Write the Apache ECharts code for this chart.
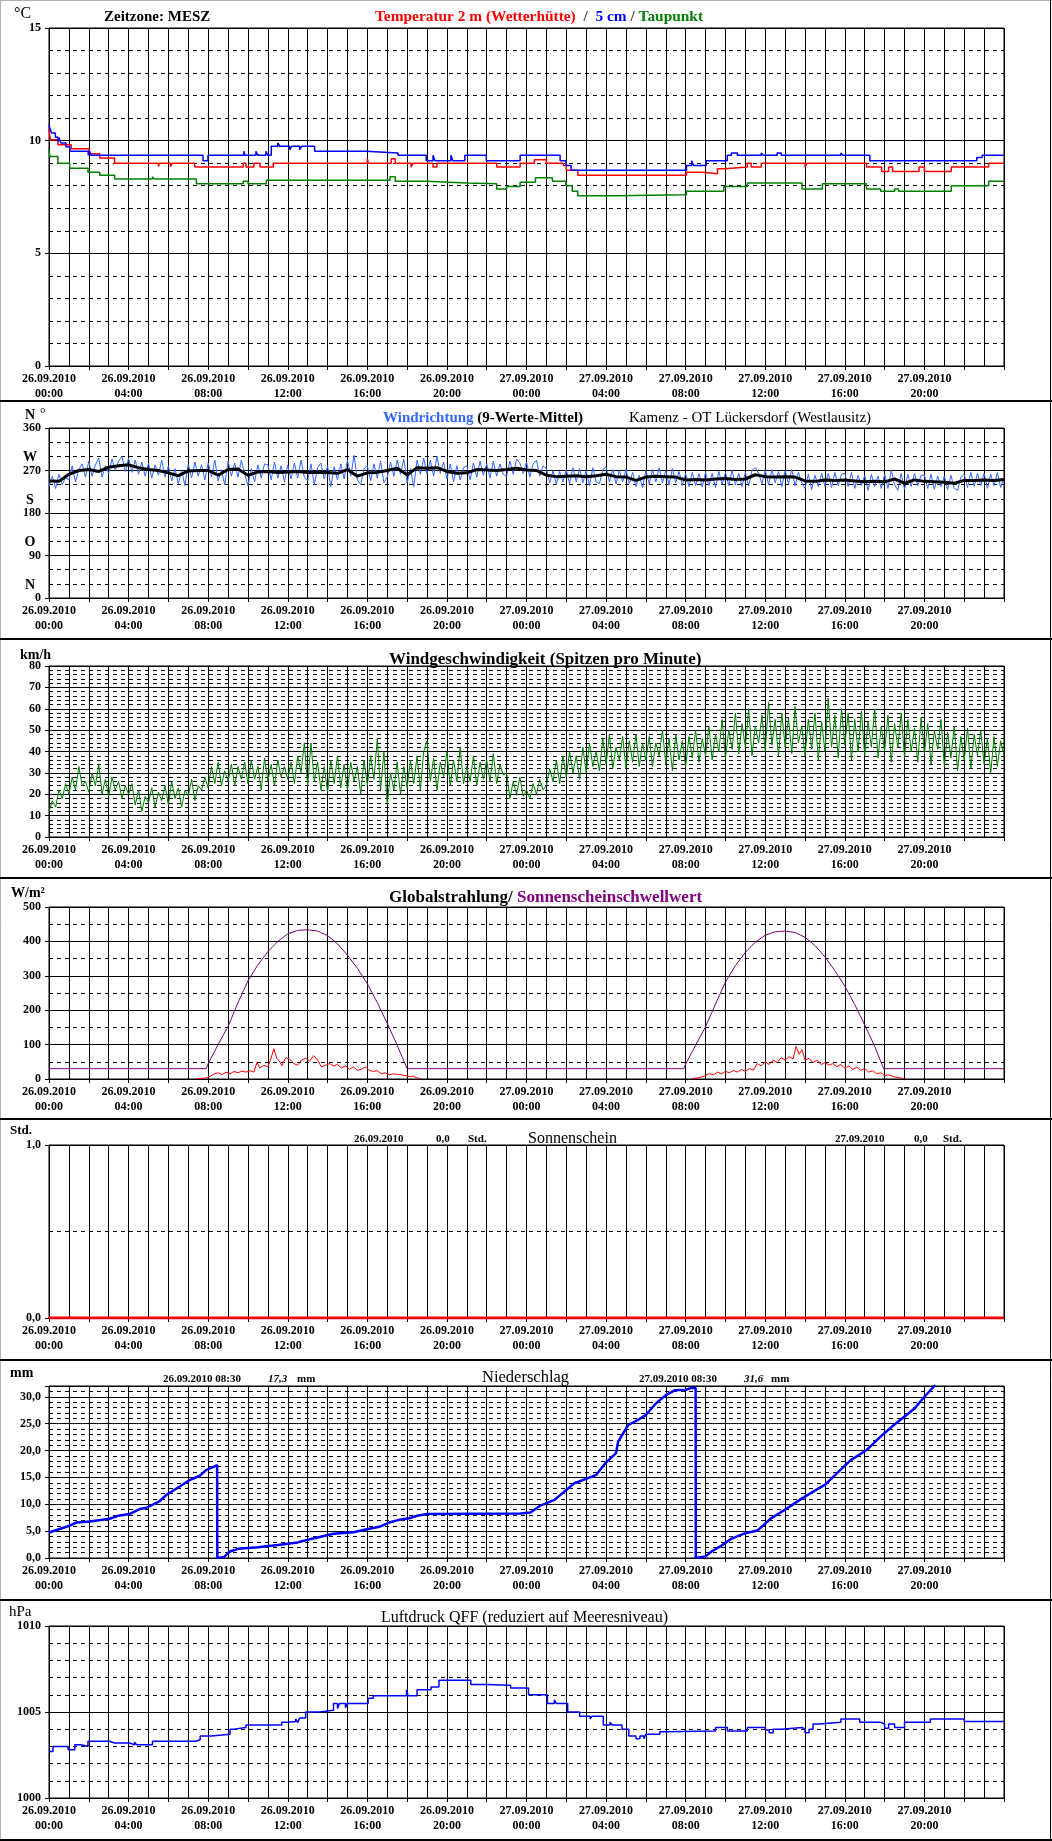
<!DOCTYPE html>
<html>
<head>
<meta charset="utf-8">
<script src="https://cdn.jsdelivr.net/npm/echarts@6/dist/echarts.min.js"></script>
<style>
html, body { margin: 0; padding: 0; background: #fff; }
#main { width: 1052px; height: 1841px; }
</style>
</head>
<body>
<div id="main"></div>
<script>
// ---- tick labels ----
var dayLabels = ['26.09.2010', '27.09.2010']
var hourLabels = ['00:00', '04:00', '08:00', '12:00', '16:00', '20:00']

// ---- Temperatur: [stunde, wert] (Stufen) ----
var temp2m = [[0,10.5],[0.07,10.04],[0.45,9.82],[1.12,9.64],[2.01,9.42],[2.55,9.23],[3.3,9.0],[5.5,8.85],[5.55,9.0],[6.1,8.85],[6.2,9.0],[7.33,8.83],[9.76,9.0],[9.9,8.83],[10.3,9.0],[10.6,8.83],[11.27,9.0],[16.0,9.2],[16.05,9.0],[17.2,9.2],[17.4,9.0],[18.2,8.83],[18.3,9.0],[19.3,8.83],[19.5,9.0],[22.5,8.83],[23.68,9.0],[24.4,9.15],[25.0,9.0],[25.85,8.9],[26.0,8.69],[26.58,8.46],[32.04,8.6],[32.8,8.53],[33.6,8.75],[33.98,8.83],[35.1,9.0],[35.3,8.83],[35.8,9.0],[38.0,8.83],[38.1,9.0],[41.09,8.83],[41.85,8.63],[42.2,8.83],[42.4,8.63],[43.73,8.83],[44.0,8.63],[45.35,8.83],[47.23,9.0],[48,9.0]]
var temp5cm = [[0,10.7],[0.04,10.56],[0.13,10.34],[0.32,10.15],[0.45,9.95],[0.5,10.15],[0.6,9.9],[0.85,9.73],[1.05,9.53],[1.97,9.35],[2.05,9.53],[2.1,9.35],[7.74,9.11],[7.99,9.35],[9.8,9.53],[9.85,9.35],[10.4,9.53],[10.5,9.35],[10.9,9.53],[11.0,9.35],[11.17,9.75],[11.5,9.9],[11.6,9.75],[12.1,9.6],[12.2,9.75],[12.6,9.6],[12.7,9.75],[13.35,9.53],[15.94,9.45],[17.54,9.35],[18.96,9.11],[19.3,9.35],[19.4,9.11],[20.2,9.35],[20.3,9.11],[20.9,9.35],[21.98,9.11],[23.68,9.35],[25.69,9.11],[25.98,8.9],[26.24,8.69],[32.04,8.9],[32.3,9.11],[32.4,8.9],[33.03,9.11],[34.09,9.35],[34.3,9.45],[34.6,9.35],[35.8,9.45],[35.9,9.35],[36.6,9.45],[36.8,9.35],[39.8,9.45],[39.9,9.35],[41.26,9.11],[46.63,9.25],[46.9,9.35],[48,9.35]]
var dewPoint = [[0,9.6],[0.04,9.3],[0.45,9.0],[1.04,8.78],[1.96,8.6],[2.55,8.46],[3.3,8.3],[5.2,8.4],[5.3,8.3],[7.41,8.09],[9.76,8.2],[10.0,8.09],[10.93,8.24],[17.14,8.4],[17.4,8.2],[18.98,8.12],[20.99,8.09],[22.5,7.85],[23.0,7.97],[23.68,8.15],[24.45,8.35],[25.3,8.2],[25.98,8.0],[26.3,7.75],[26.58,7.56],[28.5,7.6],[32.04,7.75],[33.92,7.97],[35.1,8.12],[37.85,7.85],[38.87,8.09],[41.09,7.85],[41.8,7.75],[42.5,7.85],[42.7,7.75],[45.35,8.0],[47.23,8.2],[48,8.2]]

// ---- Windrichtung: 10-Minuten-Werte und 30-Minuten-Mittel ----
var windDirRaw = [
  236,258,232,262,240,255, 250,280,246,272,284,256, 290,258,282,296,256,280, 264,294,270,290,300,268,
  296,266,292,262,288,258, 286,254,282,260,292,256, 280,248,274,242,270,238, 284,254,288,258,282,250,
  286,256,292,248,272,240, 290,258,286,256,292,262, 238,274,246,282,254,284, 282,250,288,254,280,246,
  282,252,286,254,292,256, 248,284,240,276,286,252, 280,236,278,250,284,252, 292,258,302,250,240,274,
  280,248,284,254,290,244, 256,288,258,292,262,294, 244,274,236,292,262,296, 262,292,258,300,264,288,
  252,284,246,280,250,276, 280,250,286,256,290,260, 284,254,290,258,284,262, 258,290,262,294,286,264,
  288,256,284,292,258,280, 274,244,270,240,268,246, 272,242,276,246,274,244, 270,238,276,246,242,272,
  278,246,272,242,270,246, 272,242,266,236,260,234, 270,242,272,246,276,244, 270,240,274,244,268,238,
  264,236,266,238,263,235, 266,238,264,234,268,240, 266,238,270,240,264,236, 266,237,270,276,264,242,
  270,240,272,244,268,236, 270,242,272,238,266,244, 232,262,230,260,236,264, 236,264,234,266,238,262,
  264,236,266,232,260,238, 260,228,262,236,258,232, 262,232,270,240,228,264, 230,262,236,264,238,260,
  260,232,262,230,258,236, 258,230,260,232,228,256, 262,234,266,236,264,238, 264,232,262,238,266,234,
  256]
var windDirMean = [
  248,247,262,270,272,268,277,280,282,276,272,270,265,259,269,270,270,260,272,273,260,267,268,266,
  267,268,266,266,266,264,272,258,265,266,270,275,261,276,275,276,268,264,265,272,271,270,272,275,
  271,270,260,257,258,259,257,259,262,257,256,249,256,258,257,256,250,251,250,252,253,251,252,261,
  257,256,257,256,248,247,250,249,250,248,246,247,246,252,243,250,247,246,245,243,249,249,250,249,
  251]

// ---- Windgeschwindigkeit (km/h), 10-Minuten-Werte ----
var windSpeed = [
  12,17,14,22,18,25, 20,28,22,33,24,26, 21,30,24,34,20,27, 19,28,22,26,18,24,
  20,25,15,22,12,19, 16,23,14,21,17,24, 15,26,18,23,14,22, 19,27,17,24,22,28,
  23,33,25,35,24,31, 26,34,24,33,27,35, 25,36,27,33,22,37, 26,34,24,36,28,33,
  27,35,25,38,30,44, 24,44,26,35,22,33, 21,36,25,38,23,34, 22,35,26,33,20,36,
  24,38,27,46,22,40, 15,30,22,35,20,33, 23,36,25,38,22,40, 45,26,37,22,35,28,
  40,24,36,26,42,25, 33,26,38,24,35,27, 36,26,39,25,34,29, 30,18,26,20,28,19,
  22,18,25,20,27,22, 24,32,26,36,25,38, 28,40,30,38,27,42, 30,44,33,40,31,46,
  34,48,32,42,36,47, 32,45,35,48,33,44, 36,47,33,44,38,50, 34,46,31,48,36,45,
  33,47,37,50,35,46, 38,52,36,48,40,55, 37,50,41,58,39,53, 42,60,38,52,44,57,
  40,63,43,55,38,58, 42,56,39,61,44,52, 38,55,41,58,36,54, 40,65,42,57,37,60,
  43,58,36,55,40,59, 38,54,42,60,37,52, 40,57,35,53,42,58, 37,55,40,51,35,56,
  39,53,34,50,41,55, 33,49,37,52,31,47, 36,51,32,48,38,50, 34,46,30,47,33,45,
  38]

// ---- Globalstrahlung / Sonnenscheinschwellwert (W/m²) ----
var sunThreshold = [[0,30],[7.9,30],[8,45],[8.5,100],[9,153],[9.5,222],[10,285],[10.5,332],[11,370],[11.5,400],[12,422],[12.5,432],[13,434],[13.5,430],[14,417],[14.5,393],[15,360],[15.5,322],[16,277],[16.5,222],[17,162],[17.5,98],[18,30],
  [31.9,30],[32,43],[32.5,98],[33,152],[33.5,218],[34,282],[34.5,330],[35,368],[35.5,398],[36,418],[36.5,428],[37,430],[37.5,426],[38,412],[38.5,388],[39,355],[39.5,315],[40,270],[40.5,216],[41,157],[41.5,95],[41.95,30],[48,30]]
var globalRad1 = [[7.4,1],[7.9,3],[8.1,8],[8.3,15],[8.5,18],[8.7,13],[8.9,20],[9.1,15],[9.3,22],[9.5,18],[9.7,23],[9.9,20],[10.1,24],[10.3,20],[10.45,48],[10.6,32],[10.8,40],[11.0,35],[11.15,58],[11.3,88],[11.45,60],[11.6,50],[11.7,38],[11.9,62],[12.1,58],[12.3,45],[12.5,40],[12.7,55],[12.9,60],[13.1,52],[13.3,68],[13.5,55],[13.7,35],[13.9,40],[14.1,45],[14.3,38],[14.5,42],[14.7,32],[14.9,38],[15.1,28],[15.3,35],[15.5,25],[15.7,28],[15.9,35],[16.1,25],[16.3,22],[16.5,24],[16.7,15],[16.9,18],[17.1,12],[17.3,15],[17.6,13],[17.9,10],[18.1,7],[18.3,8],[18.5,3],[18.65,1]]
var globalRad2 = [[32.3,1],[32.7,4],[33.0,10],[33.2,16],[33.4,12],[33.6,20],[33.8,15],[34.0,22],[34.2,18],[34.4,25],[34.6,20],[34.8,28],[35.0,22],[35.2,30],[35.4,26],[35.6,45],[35.8,38],[36.0,50],[36.2,42],[36.4,55],[36.6,48],[36.8,62],[37.0,55],[37.2,65],[37.4,58],[37.55,95],[37.7,72],[37.85,85],[38.0,55],[38.2,60],[38.4,48],[38.6,55],[38.8,42],[39.0,48],[39.2,40],[39.4,45],[39.6,36],[39.8,42],[40.0,32],[40.2,38],[40.4,28],[40.6,34],[40.8,25],[41.0,30],[41.2,20],[41.4,24],[41.6,15],[41.8,18],[42.0,10],[42.2,12],[42.5,6],[42.8,3],[43.0,1]]

// ---- Sonnenschein (Std.) ----
var sunshine = [[0,0],[48,0]]

// ---- Niederschlag (mm) ----
var precip = [[0,4.75],[0.96,5.9],[1.37,6.6],[2.05,6.8],[3.05,7.3],[3.47,7.85],[4.06,8.2],[4.56,9.1],[4.9,9.35],[5.57,10.6],[5.9,11.75],[6.57,13.3],[7.07,14.5],[7.58,15.3],[7.91,16.4],[8.25,16.9],[8.45,17.3],[8.46,0],[8.8,0.2],[9.1,1.2],[9.5,1.7],[10.5,2.0],[11.5,2.4],[12.5,2.9],[13.1,3.5],[13.6,3.9],[14.3,4.5],[15.3,4.8],[15.8,5.2],[16.6,5.8],[17.1,6.6],[17.6,7.1],[18.1,7.4],[18.5,7.85],[19.0,8.2],[23.7,8.3],[24.2,8.45],[24.7,9.75],[25.4,10.8],[25.9,12.35],[26.4,13.9],[27.1,14.85],[27.5,15.45],[27.95,17.6],[28.5,19.5],[28.6,21.6],[29.1,24.7],[29.6,25.7],[30.0,26.6],[30.5,28.75],[31.0,30.3],[31.45,31.2],[32.0,31.3],[32.3,31.65],[32.5,31.65],[32.51,0],[33.0,0.3],[33.3,1.2],[33.8,2.3],[34.26,3.5],[34.9,4.5],[35.6,5.1],[36.3,7.4],[37.0,9.0],[37.85,11.1],[38.7,13.0],[39.0,13.6],[39.7,16.1],[40.3,18.2],[41.1,20.1],[41.8,22.6],[42.45,24.7],[43.1,26.6],[43.5,27.8],[44.0,30.0],[44.55,32.2]]

// ---- Luftdruck QFF (hPa), Stufen ----
var pressure = [[0,1002.7],[0.2,1003.0],[0.96,1002.8],[1.3,1003.1],[1.6,1003.0],[1.96,1003.3],[3.05,1003.2],[3.3,1003.3],[3.4,1003.2],[4.06,1003.1],[4.3,1003.25],[4.4,1003.1],[5.2,1003.3],[7.4,1003.4],[7.6,1003.6],[8.16,1003.7],[9.1,1004.0],[9.3,1004.1],[9.9,1004.25],[11.7,1004.4],[12.0,1004.45],[12.4,1004.6],[12.5,1004.4],[12.6,1004.65],[12.9,1005.0],[13.6,1005.1],[14.3,1005.5],[14.5,1005.2],[14.6,1005.5],[14.9,1005.25],[15.0,1005.5],[16.04,1005.8],[16.3,1005.95],[17.97,1006.3],[18.05,1005.95],[18.5,1006.3],[19.2,1006.45],[19.6,1006.85],[21.2,1006.6],[22.0,1006.55],[23.2,1006.4],[24.1,1006.0],[25.05,1005.5],[25.4,1005.7],[25.5,1005.5],[26.07,1005.0],[26.67,1004.75],[27.2,1004.6],[27.3,1004.75],[27.86,1004.25],[28.2,1004.4],[28.3,1004.25],[28.8,1004.0],[29.14,1003.6],[29.5,1003.45],[29.7,1003.6],[29.9,1003.45],[30.0,1003.7],[30.7,1003.85],[31.0,1003.9],[33.5,1004.1],[34.1,1003.9],[35.1,1004.1],[36.0,1003.95],[36.2,1003.8],[36.4,1004.0],[36.8,1004.1],[37.85,1004.0],[38.0,1003.8],[38.2,1004.0],[38.4,1004.3],[38.7,1004.4],[39.8,1004.6],[40.75,1004.4],[41.8,1004.3],[42.0,1004.05],[42.2,1004.3],[42.5,1004.1],[43.0,1004.4],[44.3,1004.6],[46.0,1004.45],[48,1004.4]]

var FONT = '"Liberation Serif", "Times New Roman", serif'
var DASH = [4, 4]

function timeLabel (v) {
  if (v % 4 !== 0 || v >= 48) return ''
  return dayLabels[Math.floor(v / 24)] + '\n' + hourLabels[(v % 24) / 4]
}

function plain (v) {
  return String(v)
}

function comma (v) {
  return v.toFixed(1).replace('.', ',')
}

// Raster der 7 Diagramme
var gridTops = [28, 428, 666, 907, 1145, 1386, 1626]
var gridHeights = [338, 170, 171, 172, 173, 172, 172]

var grids = gridTops.map(function (t, i) {
  return {
    left: 49, width: 955, top: t, height: gridHeights[i],
    show: true, borderColor: '#000', borderWidth: 1,
    containLabel: false, outerBoundsMode: 'none'
  }
})

var xAxes = gridTops.map(function (t, i) {
  return {
    type: 'value', gridIndex: i, min: 0, max: 48, interval: 2,
    axisLine: { show: true, lineStyle: { color: '#000', width: 1 } },
    axisTick: { show: true, length: 4, lineStyle: { color: '#000' } },
    axisLabel: {
      formatter: timeLabel, color: '#000', fontFamily: FONT, fontWeight: 'bold',
      fontSize: 12, lineHeight: 15, margin: 5, hideOverlap: false
    },
    splitLine: { show: true, lineStyle: { color: '#000', width: 1 } },
    minorTick: { show: false, splitNumber: 2 },
    minorSplitLine: { show: true, lineStyle: { color: '#000', width: 1 } }
  }
})

function yAx (i, min, max, interval, minor, fmt) {
  return {
    type: 'value', gridIndex: i, position: 'left', min: min, max: max, interval: interval,
    axisLine: { show: true, lineStyle: { color: '#000', width: 1 } },
    axisTick: { show: true, length: 4, lineStyle: { color: '#000' } },
    axisLabel: {
      formatter: fmt, color: '#000', fontFamily: FONT, fontWeight: 'bold',
      fontSize: 12, margin: 8
    },
    splitLine: { show: true, lineStyle: { color: '#000', width: 1 } },
    minorTick: { show: false, splitNumber: minor || 1 },
    minorSplitLine: { show: !!minor, lineStyle: { color: '#000', width: 1, type: DASH } }
  }
}

var dirLetters = { 0: 'N', 90: 'O', 180: 'S', 270: 'W', 360: 'N' }

var yAxes = [
  yAx(0, 0, 15, 5, 5, plain),
  yAx(1, 0, 360, 90, 3, plain),
  yAx(2, 0, 80, 10, 5, plain),
  yAx(3, 0, 500, 100, 2, plain),
  yAx(4, 0, 1, 1, 2, comma),
  yAx(5, 0, 32, 5, 0, function (v) { return v % 5 === 0 ? comma(v) : '' }),
  yAx(6, 1000, 1010, 5, 5, plain),
  // Himmelsrichtungen über den Gradzahlen
  {
    type: 'value', gridIndex: 1, position: 'left', offset: 0, min: 0, max: 360, interval: 90,
    axisLine: { show: false }, axisTick: { show: false }, splitLine: { show: false },
    axisLabel: {
      formatter: function (v) { return dirLetters[v] || '' },
      color: '#000', fontFamily: FONT, fontWeight: 'bold', fontSize: 14,
      align: 'center', verticalAlign: 'bottom', margin: 19, padding: [0, 0, 6, 0]
    }
  },
  // feine Teilung Niederschlag (1 mm)
  {
    type: 'value', gridIndex: 5, position: 'left', min: 0, max: 32, interval: 1,
    axisLine: { show: false }, axisTick: { show: false }, axisLabel: { show: false },
    splitLine: { show: true, lineStyle: { color: '#000', width: 1, type: DASH } }
  }
]

function line (xi, yi, data, color, width, step) {
  return {
    type: 'line', xAxisIndex: xi, yAxisIndex: yi, data: data,
    showSymbol: false, symbol: 'none', step: step || false, silent: true,
    lineStyle: { color: color, width: width }, animation: false, z: 3
  }
}

var series = [
  line(0, 0, dewPoint, '#008000', 1.5, 'end'),
  line(0, 0, temp2m, '#ff0000', 1.5, 'end'),
  line(0, 0, temp5cm, '#0000ff', 1.5, 'end'),
  line(1, 1, windDirRaw.map(function (v, i) { return [i / 6, v] }), '#3366ff', 1),
  line(1, 1, windDirMean.map(function (v, i) { return [i / 2, v] }), '#000000', 3),
  line(2, 2, windSpeed.map(function (v, i) { return [i / 6, v] }), '#008000', 1),
  line(3, 3, sunThreshold, '#800080', 1),
  line(3, 3, globalRad1, '#ff0000', 1),
  line(3, 3, globalRad2, '#ff0000', 1),
  line(4, 4, sunshine, '#ff0000', 3),
  line(5, 5, precip, '#0000ff', 2.5),
  line(6, 6, pressure, '#0000ff', 1.5, 'end')
]

function txt (x, y, text, font, color) {
  return {
    type: 'text', x: x, y: y, silent: true,
    style: { text: text, font: font, fill: color || '#000', verticalAlign: 'middle', align: 'left' }
  }
}
function rich (x, y, text, richStyles) {
  return {
    type: 'text', x: x, y: y, silent: true,
    style: { text: text, rich: richStyles, verticalAlign: 'middle', align: 'left', font: 'bold 14px ' + FONT }
  }
}
function rs (color, size, weight) {
  return { fill: color, fontSize: size, fontWeight: weight || 'bold', fontFamily: FONT }
}
function hline (y, color, w) {
  return { type: 'line', silent: true, shape: { x1: 0, y1: y, x2: 1052, y2: y }, style: { stroke: color, lineWidth: w } }
}

var B14 = 'bold 14px ' + FONT
var B11 = 'bold 11px ' + FONT
var R15 = '15px ' + FONT
var R16 = '16px ' + FONT

var graphics = [
  hline(0.5, '#b0b0b0', 1),
  { type: 'line', silent: true, shape: { x1: 0.5, y1: 0, x2: 0.5, y2: 1841 }, style: { stroke: '#b0b0b0', lineWidth: 1 } },
  { type: 'line', silent: true, shape: { x1: 1050.5, y1: 0, x2: 1050.5, y2: 1841 }, style: { stroke: '#000', lineWidth: 1 } },
  hline(401, '#000', 2), hline(639, '#000', 2), hline(878, '#000', 2), hline(1119, '#000', 2),
  hline(1360, '#000', 2), hline(1600, '#000', 2), hline(1840, '#000', 2),

  txt(14, 14, '°C', '16px ' + FONT),
  txt(104, 17, 'Zeitzone: MESZ', 'bold 15px ' + FONT),
  rich(375, 17, '{r|Temperatur 2 m (Wetterhütte)}{s|  /  }{b|5 cm}{s| / }{g|Taupunkt}', {
    r: rs('#ff0000', 15.4), s: rs('#444444', 15.4), b: rs('#0000ff', 15.4), g: rs('#008000', 15.4)
  }),

  txt(40, 414, '°', '14px ' + FONT),
  rich(383, 418, '{b|Windrichtung}{k| (9-Werte-Mittel)}', { b: rs('#3366ff', 15), k: rs('#000', 15) }),
  txt(629, 418, 'Kamenz - OT Lückersdorf (Westlausitz)', R15),

  txt(20, 655, 'km/h', B14),
  txt(389, 660, 'Windgeschwindigkeit (Spitzen pro Minute)', 'bold 17px ' + FONT),

  txt(11, 893, 'W/m²', B14),
  rich(389, 898, '{k|Globalstrahlung/ }{p|Sonnenscheinschwellwert}', { k: rs('#000', 17), p: rs('#800080', 17) }),

  txt(10, 1131, 'Std.', 'bold 13px ' + FONT),
  txt(354, 1139, '26.09.2010', B11),
  txt(436, 1139, '0,0', B11),
  txt(468, 1139, 'Std.', B11),
  txt(528, 1139, 'Sonnenschein', R16),
  txt(835, 1139, '27.09.2010', B11),
  txt(914, 1139, '0,0', B11),
  txt(943, 1139, 'Std.', B11),

  txt(10, 1373, 'mm', B14),
  txt(163, 1379, '26.09.2010 08:30', B11),
  txt(268, 1379, '17,3', 'italic bold 11px ' + FONT),
  txt(297, 1379, 'mm', B11),
  txt(482, 1378, 'Niederschlag', '16.5px ' + FONT),
  txt(639, 1379, '27.09.2010 08:30', B11),
  txt(744, 1379, '31,6', 'italic bold 11px ' + FONT),
  txt(771, 1379, 'mm', B11),

  txt(9, 1612, 'hPa', '15px ' + FONT),
  txt(381, 1618, 'Luftdruck QFF (reduziert auf Meeresniveau)', R16)
]

var chart = echarts.init(document.getElementById('main'), null, { renderer: 'canvas' })
chart.setOption({
  animation: false,
  backgroundColor: '#ffffff',
  grid: grids,
  xAxis: xAxes,
  yAxis: yAxes,
  series: series,
  graphic: graphics
})
</script>
</body>
</html>
